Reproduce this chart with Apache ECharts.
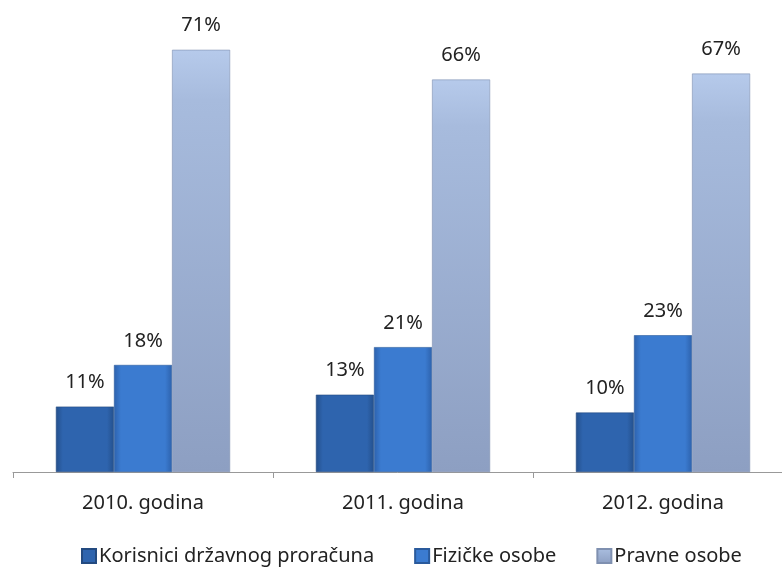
<!DOCTYPE html>
<html><head><meta charset="utf-8">
<script src="https://cdn.jsdelivr.net/npm/echarts@6/dist/echarts.min.js"></script>
<style>html,body{margin:0;padding:0;background:#fff}#c{width:782px;height:567px}</style>
</head><body><div id="c"></div>
<script>
var categories = ['2010. godina', '2011. godina', '2012. godina'];
var seriesNames = ['Korisnici državnog proračuna', 'Fizičke osobe', 'Pravne osobe'];
var korisnici = [11, 13, 10];
var fizicke = [18, 21, 23];
var pravne = [71, 66, 67];

function hGrad(edge, mid) {
  return new echarts.graphic.LinearGradient(0, 0, 1, 0, [
    {offset: 0, color: edge}, {offset: 0.12, color: mid},
    {offset: 0.88, color: mid}, {offset: 1, color: edge}
  ]);
}
function vGrad(top, bottom) {
  return new echarts.graphic.LinearGradient(0, 0, 0, 1, [
    {offset: 0, color: top}, {offset: 0.12, color: '#a7bbdd'}, {offset: 1, color: bottom}
  ]);
}
var font = 'Noto Sans';
var lbl = {show: true, position: 'top', distance: 14, color: '#222', fontSize: 20, fontFamily: font,
  formatter: function(p){ return p.value + '%'; }};

var chart = echarts.init(document.getElementById('c'));
chart.setOption({
  animation: false,
  grid: {left: 13, width: 780, top: 26, height: 446, containLabel: false, outerBoundsMode: 'none'},
  legend: {
    bottom: -4, left: 76, itemWidth: 14, itemHeight: 14, itemGap: 40, icon: 'rect',
    textStyle: {fontSize: 20, fontFamily: font, color: '#222', padding: [0, 0, 0, -2]},
    data: seriesNames
  },
  xAxis: {
    type: 'category', data: categories,
    axisLine: {lineStyle: {color: '#999', width: 1}},
    axisTick: {show: true, length: 6, lineStyle: {color: '#999'}},
    axisLabel: {fontSize: 20, fontFamily: font, color: '#222', margin: 21}
  },
  yAxis: {type: 'value', min: 0, max: 75, show: false, splitLine: {show: false}},
  series: [
    {name: seriesNames[0], type: 'bar', data: korisnici, barGap: '0%', barCategoryGap: '33%', label: lbl,
     itemStyle: {color: hGrad('#24508c', '#2e64ae'), borderColor: '#234a80', borderWidth: 0.6}},
    {name: seriesNames[1], type: 'bar', data: fizicke, label: lbl,
     itemStyle: {color: hGrad('#2d62ad', '#3b7bd0'), borderColor: '#2a5a9c', borderWidth: 0.6}},
    {name: seriesNames[2], type: 'bar', data: pravne, label: lbl,
     itemStyle: {color: vGrad('#b6caeb', '#8d9fc2'), borderColor: '#7f90b0', borderWidth: 0.6}}
  ]
});
</script></body></html>
